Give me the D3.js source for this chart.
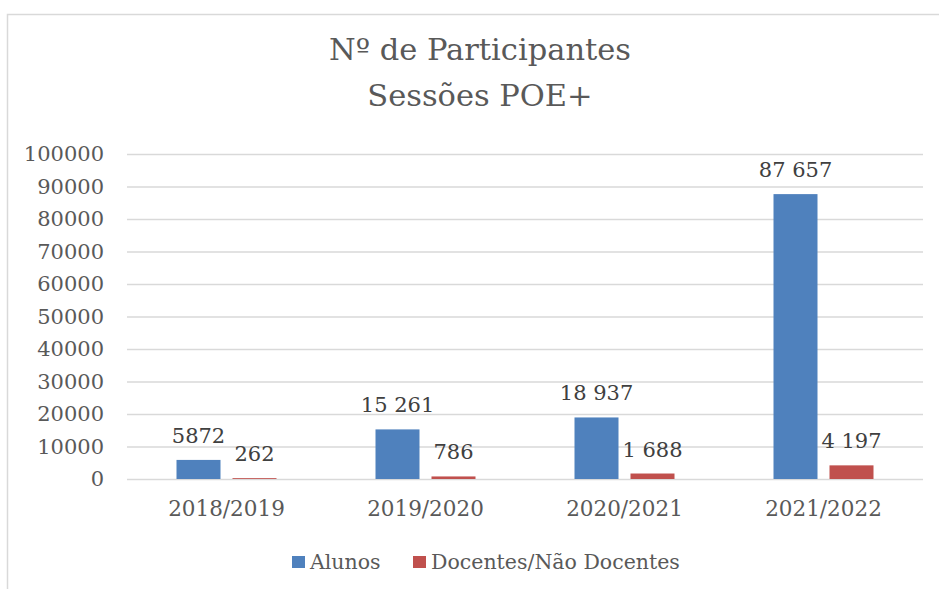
<!DOCTYPE html>
<html>
<head>
<meta charset="utf-8">
<script src="https://cdn.jsdelivr.net/npm/d3@7"></script>
<style>
  body { margin: 0; background: #fff; }
  text { font-family: "DejaVu Serif", serif; }
</style>
</head>
<body>
<div id="chart"></div>
<script>
var svgWidth = 939;
var svgHeight = 589;

// data
var years = ["2018/2019", "2019/2020", "2020/2021", "2021/2022"];
var series = ["Alunos", "Docentes/Não Docentes"];
var alunos = [5872, 15261, 18937, 87657];
var docentes = [262, 786, 1688, 4197];
var alunosLabels = ["5872", "15 261", "18 937", "87 657"];
var docentesLabels = ["262", "786", "1 688", "4 197"];
var yTicks = [0, 10000, 20000, 30000, 40000, 50000, 60000, 70000, 80000, 90000, 100000];
var colors = ["#4F81BD", "#C0504D"];

var plot = { left: 127, right: 923, top: 154, bottom: 479 };

var svg = d3.select("#chart")
  .append("svg")
  .attr("width", svgWidth)
  .attr("height", svgHeight);

// chart frame
svg.append("rect")
  .attr("x", 7.5)
  .attr("y", 14.5)
  .attr("width", 960)
  .attr("height", 620)
  .attr("fill", "none")
  .attr("stroke", "#d9d9d9")
  .attr("stroke-width", 1.5);

// title
var title = svg.append("text")
  .attr("text-anchor", "middle")
  .attr("fill", "#595959")
  .attr("font-size", 30.5);
title.append("tspan").attr("x", 480).attr("y", 60).text("Nº de Participantes");
title.append("tspan").attr("x", 480).attr("y", 106).text("Sessões POE+");

var yScale = d3.scaleLinear()
  .domain([0, 100000])
  .range([plot.bottom, plot.top]);

var x0 = d3.scaleBand()
  .domain(years)
  .range([plot.left, plot.right]);

var x1 = d3.scaleBand()
  .domain(series)
  .range([0, 100])
  .paddingInner(12 / 56);

var groupOffset = (x0.bandwidth() - 100) / 2;

// y axis with gridlines
var yAxis = svg.append("g")
  .attr("transform", `translate(${plot.left}, 0)`)
  .call(d3.axisLeft(yScale)
    .tickValues(yTicks)
    .tickFormat(d3.format("d"))
    .tickSize(-(plot.right - plot.left))
    .tickPadding(23));

yAxis.select(".domain").remove();
yAxis.selectAll(".tick line")
  .attr("stroke", "#d9d9d9")
  .attr("stroke-width", 1.5);
yAxis.selectAll(".tick text")
  .attr("fill", "#595959")
  .attr("font-size", 21)
  .attr("font-family", "DejaVu Serif, serif");

// x axis labels
var xAxis = svg.append("g")
  .attr("transform", `translate(0, ${plot.bottom})`)
  .call(d3.axisBottom(x0).tickSize(0).tickPadding(22));

xAxis.select(".domain").remove();
xAxis.selectAll(".tick text")
  .attr("fill", "#595959")
  .attr("font-size", 21.5)
  .attr("font-family", "DejaVu Serif, serif");

var tableData = years.map(function(y, i) {
  return [
    { year: y, key: series[0], value: alunos[i], label: alunosLabels[i], color: colors[0] },
    { year: y, key: series[1], value: docentes[i], label: docentesLabels[i], color: colors[1] }
  ];
});

var groups = svg.selectAll(".yearGroup")
  .data(tableData)
  .enter()
  .append("g")
  .classed("yearGroup", true)
  .attr("transform", d => `translate(${x0(d[0].year) + groupOffset}, 0)`);

groups.selectAll("rect")
  .data(d => d)
  .enter()
  .append("rect")
  .attr("x", d => x1(d.key))
  .attr("y", d => yScale(d.value))
  .attr("width", x1.bandwidth())
  .attr("height", d => yScale(0) - yScale(d.value))
  .attr("fill", d => d.color);

groups.selectAll(".barLabel")
  .data(d => d)
  .enter()
  .append("text")
  .classed("barLabel", true)
  .attr("x", d => x1(d.key) + x1.bandwidth() / 2)
  .attr("y", d => yScale(d.value) - 17)
  .attr("text-anchor", "middle")
  .attr("fill", "#404040")
  .attr("font-size", 21)
  .text(d => d.label);

// legend
var legendItems = [
  { name: series[0], color: colors[0], x: 292 },
  { name: series[1], color: colors[1], x: 413 }
];

var legend = svg.selectAll(".legendItem")
  .data(legendItems)
  .enter()
  .append("g")
  .classed("legendItem", true)
  .attr("transform", d => `translate(${d.x}, 556)`);

legend.append("rect")
  .attr("width", 13)
  .attr("height", 12)
  .attr("fill", d => d.color);

legend.append("text")
  .attr("x", 18)
  .attr("y", 13)
  .attr("fill", "#595959")
  .attr("font-size", 20.5)
  .text(d => d.name);
</script>
</body>
</html>
